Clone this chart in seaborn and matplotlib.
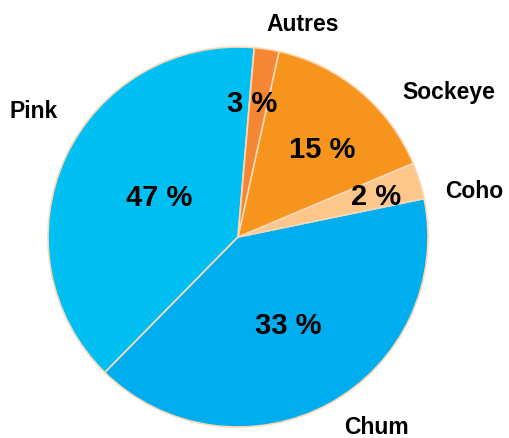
import matplotlib.pyplot as plt
import seaborn as sns

# slice sizes as drawn (angles), printed labels as shown
species = ['Pink', 'Chum', 'Coho', 'Sockeye', 'Autres']
shares = [39.0, 40.6, 3.1, 15.2, 2.1]
pct_labels = ['47 %', '33 %', '2 %', '15 %', '3 %']
colors = ['#00BFF3', '#00AEEF', '#FDC68A', '#F7941D', '#F58634']

sns.set_theme(style="white")
plt.rcParams['font.family'] = ['Liberation Sans', 'DejaVu Sans']

W, H = 509, 439
fig = plt.figure(figsize=(W / 100, H / 100), dpi=100)
ax = fig.add_axes([0, 0, 1, 1])

cx, cy, r = 238, H - 238, 190
wedges, _ = ax.pie(shares, colors=colors, startangle=85.1, counterclock=True,
                   center=(cx, cy), radius=r, frame=True,
                   wedgeprops=dict(edgecolor='#FCD8B6', linewidth=1.2))
ax.set_xlim(0, W)
ax.set_ylim(0, H)
ax.set_aspect('equal')
ax.axis('off')

# category names outside the pie (pixel positions from the top-left)
name_pos = {'Pink': (34, 111), 'Chum': (376, 428), 'Coho': (474, 192),
            'Sockeye': (449, 93), 'Autres': (303, 24)}
for name in species:
    x, y = name_pos[name]
    ax.text(x, H - y, name, ha='center', va='center', fontsize=16.5,
            fontweight='bold', color='black')

# percentage labels inside the slices
pct_pos = [(159, 198), (288, 326), (376, 197), (322, 150), (252, 104)]
for lab, (x, y) in zip(pct_labels, pct_pos):
    ax.text(x, H - y, lab, ha='center', va='center', fontsize=21,
            fontweight='bold', color='black')

plt.savefig('out.png', dpi=100)
plt.close()
